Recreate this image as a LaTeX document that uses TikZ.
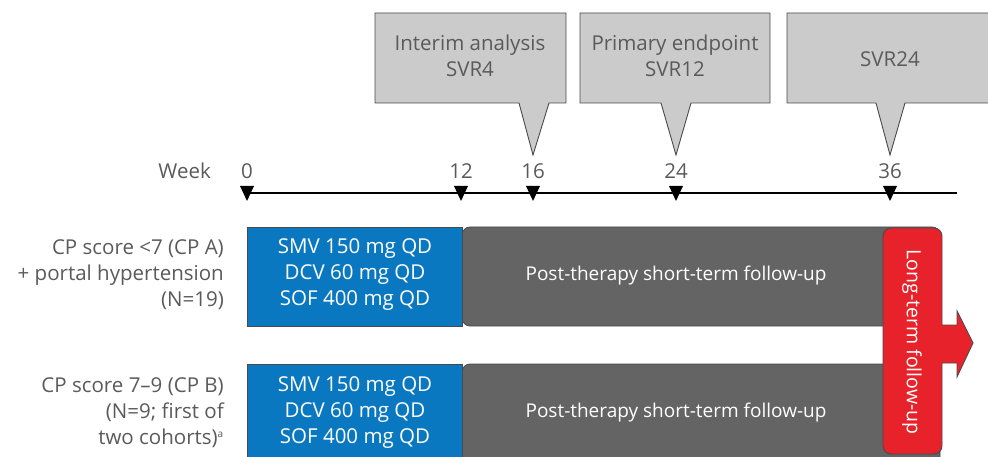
\documentclass[tikz,border=0pt]{standalone}
\usepackage{fontspec}
\setmainfont{Open Sans}
\definecolor{labelgray}{HTML}{5A5A5A}
\definecolor{calloutfill}{HTML}{CBCBCB}
\definecolor{edgegray}{HTML}{4A4A4A}
\definecolor{drugblue}{HTML}{0A78C0}
\definecolor{fugray}{HTML}{646464}
\definecolor{ltred}{HTML}{E8222A}
\begin{document}
\begin{tikzpicture}[x=1pt,y=-1pt,
  txt/.style={font=\fontsize{20.5}{26}\selectfont, inner sep=0pt},
  graytxt/.style={txt, text=labelgray},
  whitetxt/.style={txt, text=white, align=center},
  callout/.style={fill=calloutfill, draw=edgegray, line width=0.9pt, line join=miter},
  drugbox/.style={fill=drugblue, draw=edgegray, line width=0.8pt},
  fubox/.style={fill=fugray, draw=edgegray, line width=0.8pt},
  tickmark/.style={fill=black},
]
\useasboundingbox (0,0) rectangle (988,457);

% ---- callouts above the time axis
\draw[callout] (375,13) -- (566,13) -- (566,103) -- (549,103) -- (533,155) -- (519,103) -- (375,103) -- cycle;
\draw[callout] (580,13) -- (770,13) -- (770,103) -- (691,103) -- (676,155) -- (661,103) -- (580,103) -- cycle;
\draw[callout] (787,13) -- (992,13) -- (992,103) -- (905,103) -- (890,155) -- (876,103) -- (787,103) -- cycle;
\node[graytxt, align=center] (c1) at (470,56) {Interim analysis\\SVR4};
\node[graytxt, align=center] (c2) at (675,56) {Primary endpoint\\SVR12};
\node[graytxt, align=center] (c3) at (890,59) {SVR24};

% ---- time axis
\coordinate (axL) at (247,193);
\coordinate (axR) at (957,193);
\draw[line width=2.6pt] (axL) -- (axR);
\node[graytxt, anchor=east] (wk) at (211,171) {Week};
\foreach \wx/\wl in {247/0, 461/12, 533/16, 676/24, 890/36} {
  \fill[tickmark] (\wx-7,186) -- (\wx+7,186) -- (\wx,201) -- cycle;
  \node[graytxt] (w\wl) at (\wx,171) {\wl};
}

% ---- cohort labels
\node[graytxt, anchor=east, align=right] (g1) at (224,275)
  {CP score <7 (CP A)\\+ portal hypertension\\(N=19)};
\node[graytxt, anchor=east, align=right] (g2) at (224,413)
  {CP score 7–9 (CP B)\\(N=9; first of\hspace*{3pt}\\two cohorts)\textsuperscript{\fontsize{10}{10}\selectfont a}};

% ---- follow-up bars (run under the red box)
\draw[fubox, rounded corners=8pt] (462,227) rectangle (940,326);
\draw[fubox, rounded corners=8pt] (462,364) rectangle (940,470);
\node[whitetxt, font=\fontsize{19}{26}\selectfont] (f1) at (676,276) {Post-therapy short-term follow-up};
\node[whitetxt, font=\fontsize{19}{26}\selectfont] (f2) at (676,413) {Post-therapy short-term follow-up};

% ---- treatment boxes
\draw[drugbox] (247,227) rectangle (462,326);
\draw[drugbox] (247,364) rectangle (462,470);
\node[whitetxt] (d1) at (355,275) {SMV 150 mg QD\\DCV 60 mg QD\\SOF 400 mg QD};
\node[whitetxt] (d2) at (355,413) {SMV 150 mg QD\\DCV 60 mg QD\\SOF 400 mg QD};

% ---- long-term follow-up box with arrow
\draw[fill=ltred, draw=edgegray, line width=0.9pt, line join=miter]
  (883,340) [rounded corners=8pt] -- (883,228) -- (942,228)
  [sharp corners] -- (942,325) -- (957,325) -- (957,311) -- (973,343)
  -- (957,377) -- (957,363) -- (942,363)
  [rounded corners=8pt] -- (942,454) -- (883,454) -- (883,340) -- cycle;
\node[txt, font=\fontsize{19.5}{26}\selectfont, text=white, rotate=-90] (lt) at (912,342) {Long-term follow-up};
\end{tikzpicture}
\end{document}
